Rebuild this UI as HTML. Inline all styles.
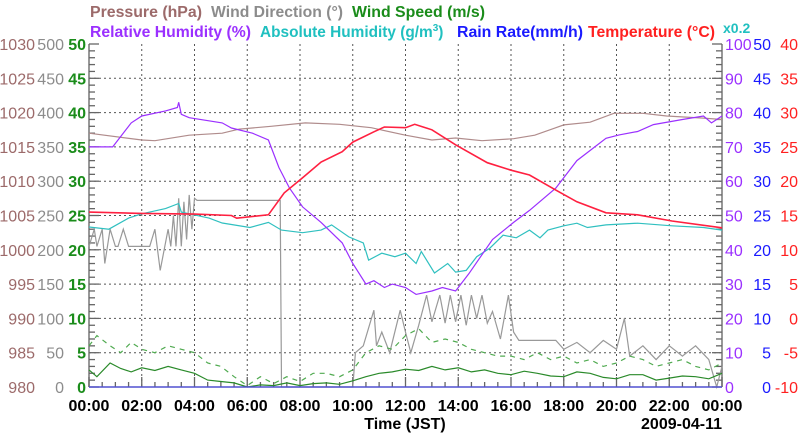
<!DOCTYPE html>
<html><head><meta charset="utf-8"><style>
body{margin:0;background:#fff;width:800px;height:434px;overflow:hidden}
svg{display:block;font-family:"Liberation Sans",sans-serif}
</style></head><body>
<svg id="chart" width="800" height="434" viewBox="0 0 800 434" xmlns="http://www.w3.org/2000/svg">
<g id="grid"></g>
<g id="axes"></g>
<g id="series"></g>
<g font-weight="bold" font-size="16">
<text x="90" y="17" fill="#9c6a6a" textLength="112" lengthAdjust="spacingAndGlyphs">Pressure (hPa)</text>
<text x="211" y="17" fill="#8c8c8c" textLength="132" lengthAdjust="spacingAndGlyphs">Wind Direction (°)</text>
<text x="352" y="17" fill="#1a8c1a" textLength="133" lengthAdjust="spacingAndGlyphs">Wind Speed (m/s)</text>
<text x="90" y="37" fill="#9b30ff" textLength="161" lengthAdjust="spacingAndGlyphs">Relative Humidity (%)</text>
<text x="260" y="37" fill="#20c0c0" font-size="15.4">Absolute Humidity (g/m<tspan font-size="10" dy="-6">3</tspan><tspan dy="6">)</tspan></text>
<text x="457" y="37" fill="#1a1aff" textLength="126" lengthAdjust="spacingAndGlyphs">Rain Rate(mm/h)</text>
<text x="588" y="37" fill="#ff2020" textLength="127" lengthAdjust="spacingAndGlyphs">Temperature (°C)</text>
<text x="723" y="33" font-size="14" fill="#20c0c0">x0.2</text>
</g>
<g font-weight="bold" font-size="16" fill="#000">
<text x="405" y="429" text-anchor="middle">Time (JST)</text>
<text x="722" y="429" text-anchor="end">2009-04-11</text>
</g>
</svg>
<script>
const timeTicks=["00:00","02:00","04:00","06:00","08:00","10:00","12:00","14:00","16:00","18:00","20:00","22:00","00:00"];
const pressureTicks=[980,985,990,995,1000,1005,1010,1015,1020,1025,1030];
const windDirTicks=[0,50,100,150,200,250,300,350,400,450,500];
const windSpdTicks=[0,5,10,15,20,25,30,35,40,45,50];
const rhTicks=[0,10,20,30,40,50,60,70,80,90,100];
const rainTicks=[0,5,10,15,20,25,30,35,40,45,50];
const tempTicks=[-10,-5,0,5,10,15,20,25,30,35,40];

const tempHours=[0,2,4,5.4,5.6,6.8,7.4,8.1,8.8,9.6,10,10.8,11.2,12,12.35,13,13.9,15.1,16,16.7,17.7,18.5,19.6,20.8,22.1,24];
const tempValues=[15.5,15.3,15.2,15.0,14.6,15.1,18.3,20.5,22.8,24.3,25.7,27.2,27.9,27.8,28.3,27.5,25.3,22.7,21.6,20.9,18.7,17.0,15.4,15.1,14.2,13.2];

const rhHours=[0,0.9,1.6,2.0,2.9,3.35,3.4,3.5,3.8,5.05,5.4,6.2,6.8,7.2,7.6,8.1,8.8,9.6,10,10.5,10.8,11.2,11.5,12,12.4,13,13.4,13.9,14.4,15.3,16.1,16.7,17.7,18.5,19.6,20.1,20.8,21.4,22.5,23.3,23.6,24];
const rhValues=[70,70,77,79,80.5,81.5,83,79.5,78.5,77,75.5,74,72,64,58,52.5,48,42,36,30,31,29,30,29,27,28,29,28,33,43,48,51.5,58,66,72.5,73.5,74.5,76.5,78,79,77,79];

const ahHours=[0,0.75,1.5,2,2.9,3.4,3.5,3.8,4.55,5.05,6.1,6.8,7.3,8.1,8.8,9.2,9.85,10.4,10.6,11.1,11.6,12,12.4,12.6,13.1,13.6,13.9,14.3,14.7,15.2,15.7,16.2,16.7,17.1,17.4,18,18.5,18.9,19.6,20.8,22.1,23.3,24];
const ahValues=[9.33,9.2,9.85,10.1,10.4,10.7,10.2,10.1,9.85,9.56,9.3,9.6,9.15,9.0,9.15,9.45,8.75,8.4,7.4,7.8,7.6,7.8,7.2,7.9,6.65,7.2,6.7,6.8,7.6,8.1,8.85,8.7,9.15,8.7,9.15,9.4,9.55,9.3,9.45,9.55,9.4,9.3,9.15];

const presHours=[0,2,2.5,3.8,5.05,5.7,6.9,8.2,9.5,10.7,12,13,13.9,14.9,16.1,16.9,18,19,19.9,21,21.9,23.3,24];
const presValues=[1017.0,1016.0,1015.9,1016.7,1017.0,1017.6,1018.0,1018.5,1018.3,1017.8,1016.7,1016.0,1016.3,1015.9,1016.2,1016.7,1018.2,1018.6,1019.9,1019.9,1019.5,1019.2,1019.0];

const wdHours=[0,0.2,0.3,0.5,0.6,0.8,1.0,1.1,1.3,1.5,2.3,2.5,2.7,3.0,3.1,3.2,3.3,3.4,3.5,3.6,3.7,3.8,3.9,4.0,4.1,7.25,7.3,10.0,10.1,10.4,10.8,10.9,11.1,11.4,11.8,12.0,12.2,12.5,12.8,13.0,13.3,13.5,13.7,13.9,14.1,14.3,14.5,14.7,14.9,15.1,15.3,15.6,15.9,16.1,16.3,17.7,18.0,18.5,19.0,19.5,20.0,20.3,20.5,21.0,21.5,22.0,22.5,23.0,23.5,23.8,24];
const wdValues=[205,230,205,230,180,230,205,205,230,205,205,230,170,230,205,250,205,275,205,270,215,280,230,275,272,272,0,0,50,60,112,60,80,50,112,80,50,90,134,95,134,93,134,95,134,90,134,100,134,93,110,70,134,80,68,68,55,65,50,68,55,100,45,60,40,60,45,60,40,0,30];

const wsHours=[0,0.3,0.8,1.2,1.6,2,2.5,3,3.5,4,4.5,5,5.5,6,6.5,7,7.5,8,8.5,9,9.5,10,10.5,11,11.5,12,12.5,13,13.5,14,14.5,15,15.5,16,16.5,17,17.5,18,18.5,19,19.5,20,20.5,21,21.5,22,22.5,23,23.5,24];
const wsValues=[2.5,1.5,3.5,2.7,2.2,2.8,2.4,3.0,2.5,2.0,1.0,0.8,0.6,0,0.3,0.2,0.6,0.2,0.5,0.6,0.4,0.9,1.5,2.0,2.2,2.6,2.4,3.0,2.5,2.8,2.2,2.5,2.0,1.8,2.3,2.0,1.6,1.5,2.2,2.0,1.4,1.2,1.8,1.8,1.0,1.3,1.6,1.5,1.2,2.0];
const gustValues=[6,7.5,6,5,6.5,5.5,5,6,5.5,5,3.5,3,1.5,0.2,1.5,0.5,1.5,0.8,2,2,1.5,2.5,5,6,5.5,7.5,8.5,6.5,7,6.5,5.5,5,4.5,4.5,4,5,4,4.5,3.5,4,3,3.5,4.5,4,3,3.5,4,3,2.5,3.5];

const rainHours=[0,24];
const rainValues=[0,0];

const L=89,R=722,T=44,B=387;
const NS='http://www.w3.org/2000/svg';
const xs=h=>L+(R-L)*h/24;
const frac=(v,lo,hi)=>B-(B-T)*(v-lo)/(hi-lo);
const yPres=v=>frac(v,980,1030), yWD=v=>frac(v,0,500), yWS=v=>frac(v,0,50),
      yRH=v=>frac(v,0,100), yAH=v=>frac(v/0.2,0,100), yRain=v=>frac(v,0,50), yTemp=v=>frac(v,-10,40);
function mk(tag,attrs,parent){const e=document.createElementNS(NS,tag);for(const k in attrs)e.setAttribute(k,attrs[k]);parent.appendChild(e);return e;}
const grid=document.getElementById('grid'),axes=document.getElementById('axes'),ser=document.getElementById('series');
for(let i=1;i<12;i++){const x=xs(i*2);const l=mk('line',{x1:x,y1:T,x2:x,y2:B,stroke:'#555','stroke-width':1,'stroke-dasharray':'2,3'},grid);

}
for(let i=1;i<10;i++){const y=frac(i,0,10);const l=mk('line',{x1:L,y1:y,x2:R,y2:y,stroke:'#555','stroke-width':1,'stroke-dasharray':'2,3'},grid);

}
mk('line',{x1:L,y1:T,x2:L,y2:B,stroke:'#777','stroke-width':1.5},axes);
mk('line',{x1:R,y1:T,x2:R,y2:B,stroke:'#777','stroke-width':1.5},axes);
for(let i=0;i<=50;i++){const y=frac(i,0,50);const maj=i%5===0;
mk('line',{x1:L,y1:y,x2:L+(maj?10:6),y2:y,stroke:'#666','stroke-width':1.3},axes);
mk('line',{x1:R,y1:y,x2:R-(maj?10:6),y2:y,stroke:'#666','stroke-width':1.3},axes);}
for(let i=0;i<=48;i++){const x=xs(i/2);const maj=i%4===0;
mk('line',{x1:x,y1:B,x2:x,y2:B-(maj?10:5),stroke:'#666','stroke-width':1.3},axes);}
function lbl(arr,xpos,anchor,fill,yf,bold,name){arr.forEach(v=>{const t=mk('text',{x:xpos,y:yf(v)+6,'text-anchor':anchor,fill:fill,'font-size':16,'font-weight':bold?'bold':'normal'},axes);t.textContent=v;

});}
lbl(pressureTicks,35,'end','#9c6a6a',yPres,false,'pressure-tick-label');
lbl(windDirTicks,64,'end','#8c8c8c',yWD,false,'wind-direction-tick-label');
lbl(windSpdTicks,86,'end','#1a8c1a',yWS,true,'wind-speed-tick-label');
lbl(rhTicks,725,'start','#9b30ff',yRH,false,'humidity-tick-label');
lbl(rainTicks,771,'end','#1a1aff',yRain,false,'rain-tick-label');
lbl(tempTicks,798,'end','#ff2020',yTemp,false,'temperature-tick-label');
timeTicks.forEach((s,i)=>{const t=mk('text',{x:xs(i*2),y:411,'text-anchor':'middle','font-size':16,'font-weight':'bold',fill:'#000'},axes);t.textContent=s;

});
function line(hs,vs,yf,color,name,extra){const d=hs.map((h,i)=>(i?'L':'M')+xs(h).toFixed(1)+','+yf(vs[i]).toFixed(1)).join('');
const p=mk('path',Object.assign({d:d,fill:'none',stroke:color,'stroke-width':1.2},extra||{}),ser);

}
line(presHours,presValues,yPres,'#b08c8c','pressure-line');
line(wdHours,wdValues,yWD,'#999','wind-direction-line');
line(wsHours,gustValues,yWS,'#50aa50','wind-gust-line',{'stroke-dasharray':'5,5'});
line(wsHours,wsValues,yWS,'#2a8a2a','wind-speed-line');
line(ahHours,ahValues,yAH,'#30c0c0','absolute-humidity-line');
line(rhHours,rhValues,yRH,'#9b30ff','relative-humidity-line');
line(tempHours,tempValues,yTemp,'#ff2040','temperature-line',{'stroke-width':1.6});
line(rainHours,rainValues,yRain,'#5050d0','rain-rate-line',{'stroke-width':1.5});
</script>
</body></html>
